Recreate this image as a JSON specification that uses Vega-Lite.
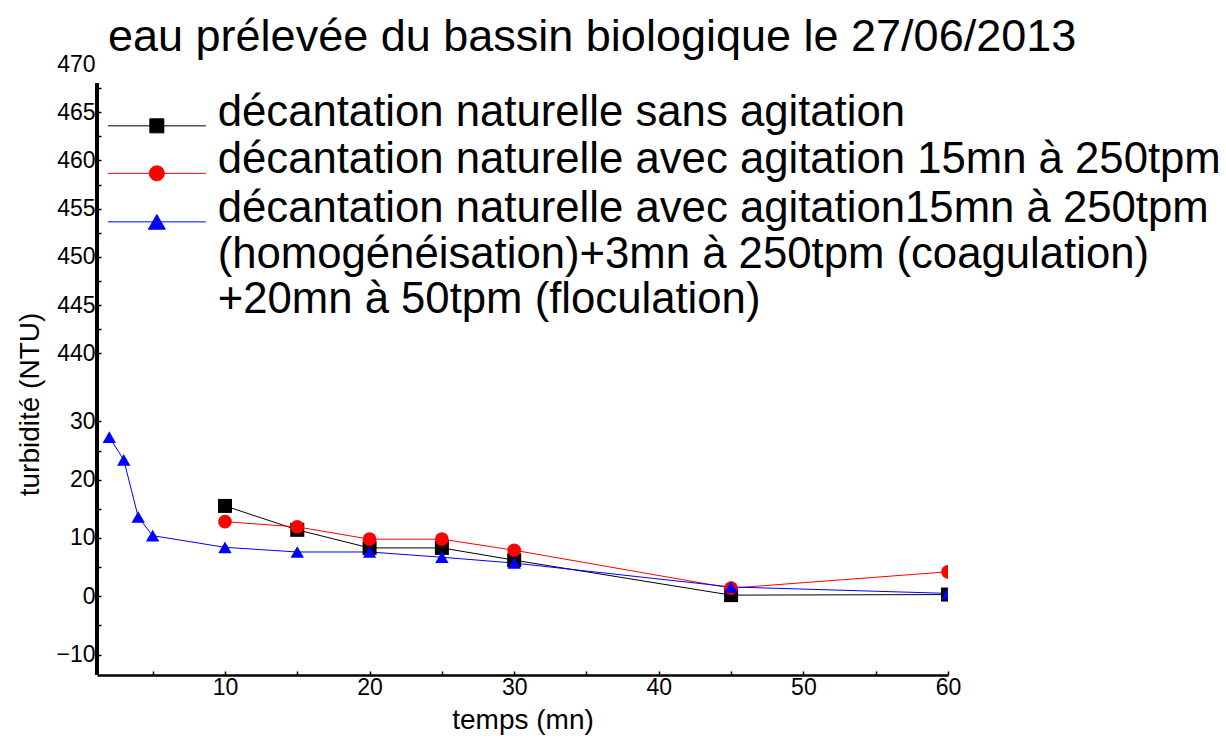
{
  "$schema": "https://vega.github.io/schema/vega-lite/v6.json",
  "width": 851,
  "height": 611,
  "autosize": "none",
  "padding": {"left": 97, "top": 64, "right": 278, "bottom": 63},
  "background": "white",
  "config": {"view": {"stroke": null}, "font": "Liberation Sans"},
  "title": {
    "text": "eau prélevée du bassin biologique le 27/06/2013",
    "anchor": "start",
    "frame": "group",
    "font": "Liberation Sans",
    "fontSize": 45,
    "fontWeight": "normal",
    "color": "black",
    "baseline": "alphabetic",
    "offset": 15,
    "dx": 11,
    "dy": 58
  },
  "data": {
    "values": [
      {"temps": 10, "turbidite": 15.5, "essai": "décantation naturelle sans agitation"},
      {"temps": 15, "turbidite": 11.4, "essai": "décantation naturelle sans agitation"},
      {"temps": 20, "turbidite": 8.3, "essai": "décantation naturelle sans agitation"},
      {"temps": 25, "turbidite": 8.3, "essai": "décantation naturelle sans agitation"},
      {"temps": 30, "turbidite": 6.2, "essai": "décantation naturelle sans agitation"},
      {"temps": 45, "turbidite": 0.2, "essai": "décantation naturelle sans agitation"},
      {"temps": 60, "turbidite": 0.3, "essai": "décantation naturelle sans agitation"},
      {"temps": 10, "turbidite": 12.8, "essai": "décantation naturelle avec agitation 15mn à 250tpm"},
      {"temps": 15, "turbidite": 11.9, "essai": "décantation naturelle avec agitation 15mn à 250tpm"},
      {"temps": 20, "turbidite": 9.8, "essai": "décantation naturelle avec agitation 15mn à 250tpm"},
      {"temps": 25, "turbidite": 9.8, "essai": "décantation naturelle avec agitation 15mn à 250tpm"},
      {"temps": 30, "turbidite": 7.9, "essai": "décantation naturelle avec agitation 15mn à 250tpm"},
      {"temps": 45, "turbidite": 1.4, "essai": "décantation naturelle avec agitation 15mn à 250tpm"},
      {"temps": 60, "turbidite": 4.2, "essai": "décantation naturelle avec agitation 15mn à 250tpm"},
      {"temps": 2, "turbidite": 27.3, "essai": "décantation naturelle avec agitation15mn à 250tpm (homogénéisation)+3mn à 250tpm (coagulation) +20mn à 50tpm (floculation)"},
      {"temps": 3, "turbidite": 23.4, "essai": "décantation naturelle avec agitation15mn à 250tpm (homogénéisation)+3mn à 250tpm (coagulation) +20mn à 50tpm (floculation)"},
      {"temps": 4, "turbidite": 13.6, "essai": "décantation naturelle avec agitation15mn à 250tpm (homogénéisation)+3mn à 250tpm (coagulation) +20mn à 50tpm (floculation)"},
      {"temps": 5, "turbidite": 10.4, "essai": "décantation naturelle avec agitation15mn à 250tpm (homogénéisation)+3mn à 250tpm (coagulation) +20mn à 50tpm (floculation)"},
      {"temps": 10, "turbidite": 8.4, "essai": "décantation naturelle avec agitation15mn à 250tpm (homogénéisation)+3mn à 250tpm (coagulation) +20mn à 50tpm (floculation)"},
      {"temps": 15, "turbidite": 7.6, "essai": "décantation naturelle avec agitation15mn à 250tpm (homogénéisation)+3mn à 250tpm (coagulation) +20mn à 50tpm (floculation)"},
      {"temps": 20, "turbidite": 7.6, "essai": "décantation naturelle avec agitation15mn à 250tpm (homogénéisation)+3mn à 250tpm (coagulation) +20mn à 50tpm (floculation)"},
      {"temps": 25, "turbidite": 6.7, "essai": "décantation naturelle avec agitation15mn à 250tpm (homogénéisation)+3mn à 250tpm (coagulation) +20mn à 50tpm (floculation)"},
      {"temps": 30, "turbidite": 5.7, "essai": "décantation naturelle avec agitation15mn à 250tpm (homogénéisation)+3mn à 250tpm (coagulation) +20mn à 50tpm (floculation)"},
      {"temps": 45, "turbidite": 1.6, "essai": "décantation naturelle avec agitation15mn à 250tpm (homogénéisation)+3mn à 250tpm (coagulation) +20mn à 50tpm (floculation)"},
      {"temps": 60, "turbidite": 0.5, "essai": "décantation naturelle avec agitation15mn à 250tpm (homogénéisation)+3mn à 250tpm (coagulation) +20mn à 50tpm (floculation)"}
    ]
  },
  "encoding": {
    "x": {
      "field": "temps",
      "type": "quantitative",
      "scale": {"domain": [1.15, 60], "nice": false, "zero": false},
      "axis": {
        "values": [5, 10, 15, 20, 25, 30, 35, 40, 45, 50, 55, 60],
        "labelExpr": "datum.value % 10 === 0 ? datum.label : ''",
        "labelFont": "Liberation Sans",
        "labelFontSize": 23,
        "labelColor": "black",
        "labelPadding": 5,
        "labelFlush": false,
        "labelOverlap": false,
        "tickSize": -4,
        "tickWidth": 1.5,
        "tickColor": "black",
        "domainColor": "black",
        "domainWidth": 2.5,
        "grid": false,
        "title": "temps (mn)",
        "titleFont": "Liberation Sans",
        "titleFontSize": 28,
        "titleFontWeight": "normal",
        "titleColor": "black",
        "titleBaseline": "alphabetic",
        "titleY": 53
      }
    },
    "y": {
      "field": "turbidite",
      "type": "quantitative",
      "scale": {
        "domain": [-13.5, 35.9, 436.5, 470],
        "range": [611, 323, 323, 0],
        "nice": false,
        "zero": false
      },
      "axis": {
        "values": [-10, -5, 0, 5, 10, 15, 20, 25, 30, 440, 442.5, 445, 447.5, 450, 452.5, 455, 457.5, 460, 462.5, 465, 467.5, 470],
        "labelExpr": "datum.value > 400 ? (datum.value % 5 === 0 ? datum.label : '') : (datum.value % 10 === 0 ? datum.label : '')",
        "labelFont": "Liberation Sans",
        "labelFontSize": 23,
        "labelColor": "black",
        "labelPadding": 6,
        "labelFlush": false,
        "labelOverlap": false,
        "tickSize": -4,
        "tickWidth": 1.5,
        "tickColor": "black",
        "tickOpacity": {"condition": {"test": "datum.value > 469", "value": 0}, "value": 1},
        "domain": false,
        "grid": false,
        "title": "turbidité (NTU)",
        "titleFont": "Liberation Sans",
        "titleFontSize": 28,
        "titleFontWeight": "normal",
        "titleColor": "black",
        "titleAngle": -90,
        "titleAlign": "center",
        "titleBaseline": "middle",
        "titleX": -67,
        "titleY": 340
      }
    }
  },
  "resolve": {"scale": {"shape": "independent", "fill": "independent", "stroke": "independent"}},
  "layer": [
    {
      "mark": {"type": "line", "strokeWidth": 1, "clip": true},
      "encoding": {
        "stroke": {
          "field": "essai",
          "type": "nominal",
          "scale": {
            "domain": [
              "décantation naturelle sans agitation",
              "décantation naturelle avec agitation 15mn à 250tpm",
              "décantation naturelle avec agitation15mn à 250tpm (homogénéisation)+3mn à 250tpm (coagulation) +20mn à 50tpm (floculation)"
            ],
            "range": ["#000000", "#ff0000", "#0000ff"]
          },
          "legend": null
        }
      }
    },
    {
      "mark": {"type": "point", "filled": true, "opacity": 1, "clip": true},
      "encoding": {
        "fill": {
          "field": "essai",
          "type": "nominal",
          "scale": {
            "domain": [
              "décantation naturelle sans agitation",
              "décantation naturelle avec agitation 15mn à 250tpm",
              "décantation naturelle avec agitation15mn à 250tpm (homogénéisation)+3mn à 250tpm (coagulation) +20mn à 50tpm (floculation)"
            ],
            "range": ["#000000", "#ff0000", "#0000ff"]
          },
          "legend": null
        },
        "shape": {
          "field": "essai",
          "type": "nominal",
          "scale": {
            "domain": [
              "décantation naturelle sans agitation",
              "décantation naturelle avec agitation 15mn à 250tpm",
              "décantation naturelle avec agitation15mn à 250tpm (homogénéisation)+3mn à 250tpm (coagulation) +20mn à 50tpm (floculation)"
            ],
            "range": ["square", "circle", "triangle-up"]
          },
          "legend": null
        },
        "size": {
          "field": "essai",
          "type": "ordinal",
          "scale": {
            "domain": [
              "décantation naturelle sans agitation",
              "décantation naturelle avec agitation 15mn à 250tpm",
              "décantation naturelle avec agitation15mn à 250tpm (homogénéisation)+3mn à 250tpm (coagulation) +20mn à 50tpm (floculation)"
            ],
            "range": [196, 180, 290]
          },
          "legend": null
        }
      }
    },
    {
      "transform": [{"filter": "false"}],
      "mark": {"type": "point", "filled": true, "opacity": 1},
      "encoding": {
        "fill": {
          "field": "essai",
          "type": "nominal",
          "scale": {
            "domain": [
              "décantation naturelle sans agitation",
              "décantation naturelle avec agitation 15mn à 250tpm",
              "décantation naturelle avec agitation15mn à 250tpm (homogénéisation)+3mn à 250tpm (coagulation) +20mn à 50tpm (floculation)"
            ],
            "range": ["#000000", "#ff0000", "#0000ff"]
          },
          "legend": {
            "orient": "none",
            "legendX": 38,
            "legendY": 40,
            "title": null,
            "padding": 0,
            "rowPadding": 2.5,
            "symbolSize": 196,
            "symbolStrokeWidth": 1,
            "labelOffset": 39,
            "labelFont": "Liberation Sans",
            "labelFontSize": 43.7,
            "labelColor": "black",
            "labelLimit": 0,
            "labelBaseline": "alphabetic",
            "labelExpr": "test(/floculation/, datum.label) ? ['décantation naturelle avec agitation15mn à 250tpm', '(homogénéisation)+3mn à 250tpm (coagulation)', '  +20mn à 50tpm (floculation)'] : datum.label",
            "encode": {
              "labels": {
                "update": {
                  "dy": {"value": 15.5},
                  "lineHeight": {"value": 49}
                }
              }
            }
          }
        },
        "stroke": {
          "field": "essai",
          "type": "nominal",
          "scale": {
            "domain": [
              "décantation naturelle sans agitation",
              "décantation naturelle avec agitation 15mn à 250tpm",
              "décantation naturelle avec agitation15mn à 250tpm (homogénéisation)+3mn à 250tpm (coagulation) +20mn à 50tpm (floculation)"
            ],
            "range": ["#000000", "#ff0000", "#0000ff"]
          },
          "legend": {
            "orient": "none",
            "legendX": 38,
            "legendY": 40,
            "title": null,
            "padding": 0,
            "rowPadding": 2.5,
            "symbolSize": 196,
            "symbolStrokeWidth": 1,
            "labelOffset": 39,
            "labelFont": "Liberation Sans",
            "labelFontSize": 43.7,
            "labelColor": "black",
            "labelLimit": 0,
            "labelBaseline": "alphabetic",
            "labelExpr": "test(/floculation/, datum.label) ? ['décantation naturelle avec agitation15mn à 250tpm', '(homogénéisation)+3mn à 250tpm (coagulation)', '  +20mn à 50tpm (floculation)'] : datum.label",
            "encode": {
              "labels": {
                "update": {
                  "dy": {"value": 15.5},
                  "lineHeight": {"value": 49}
                }
              }
            }
          }
        },
        "shape": {
          "field": "essai",
          "type": "nominal",
          "scale": {
            "domain": [
              "décantation naturelle sans agitation",
              "décantation naturelle avec agitation 15mn à 250tpm",
              "décantation naturelle avec agitation15mn à 250tpm (homogénéisation)+3mn à 250tpm (coagulation) +20mn à 50tpm (floculation)"
            ],
            "range": [
              "M-7,0H7M-1,-1H1V1H-1Z",
              "M-7,0H7M1.07,0A1.07,1.07,0,1,1,-1.07,0A1.07,1.07,0,1,1,1.07,0Z",
              "M-7,0H7M0,-1.05L1.21,1.05H-1.21Z"
            ]
          },
          "legend": {
            "orient": "none",
            "legendX": 38,
            "legendY": 40,
            "title": null,
            "padding": 0,
            "rowPadding": 2.5,
            "symbolSize": 196,
            "symbolStrokeWidth": 1,
            "labelOffset": 39,
            "labelFont": "Liberation Sans",
            "labelFontSize": 43.7,
            "labelColor": "black",
            "labelLimit": 0,
            "labelBaseline": "alphabetic",
            "labelExpr": "test(/floculation/, datum.label) ? ['décantation naturelle avec agitation15mn à 250tpm', '(homogénéisation)+3mn à 250tpm (coagulation)', '  +20mn à 50tpm (floculation)'] : datum.label",
            "encode": {
              "labels": {
                "update": {
                  "dy": {"value": 15.5},
                  "lineHeight": {"value": 49}
                }
              }
            }
          }
        }
      }
    },
    {
      "mark": {"type": "rule", "strokeWidth": 2.5, "color": "black"},
      "encoding": {
        "x": {"datum": 1.15, "type": "quantitative"},
        "y": {"datum": -13.5, "type": "quantitative"},
        "y2": {"datum": 468}
      }
    }
  ]
}
